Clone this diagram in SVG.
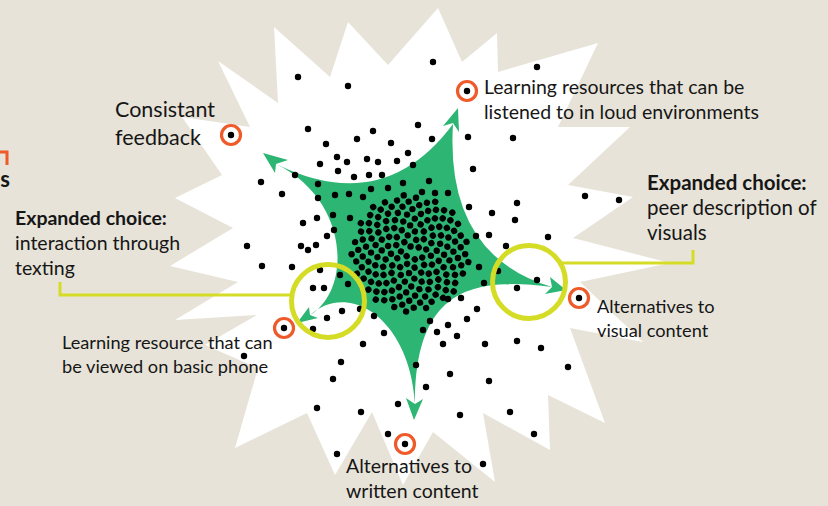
<svg xmlns="http://www.w3.org/2000/svg" width="828" height="506" viewBox="0 0 828 506">
<style>
text{font-family:Lato,"Open Sans","Liberation Sans",sans-serif;fill:#161616}
.l{font-size:19.5px}
.s{font-size:18.2px}
.big{font-size:21.5px}
.pr{font-size:20.5px}
.b{font-weight:700}
.ring{fill:none;stroke:#ee5a2a;stroke-width:3.2}
.hl{fill:none;stroke:#d5dc26;stroke-width:5}
.ln{fill:none;stroke:#d5dc26;stroke-width:3}
.grn{fill:#2db573}
.dot{fill:#000}
</style>
<rect width="828" height="506" fill="#e7e3d8"/>
<polygon id="burst" fill="#fff" points="348,22 388,65 438,8 462,62 497,33 498,72 598,43 558,127 630,127 568,185 633,197 573,238 670,263 580,282 643,342 570,328 605,423 548,395 550,450 483,413 495,482 433,432 403,485 372,412 335,475 307,413 235,448 258,368 205,345 257,315 175,320 238,282 170,266 233,228 175,198 222,175 182,117 250,127 218,61 278,103 274,27 330,77"/>
<g id="star" class="grn">
<path d="M276,164 Q384,217 453,124 Q445,255 552,287 C465,275 415,295 415,404 C410,320 350,280 310,315 C352,290 350,200 276,164 Z"/>
<polygon points="263,153 275,173 276,164 288,160"/>
<polygon points="458,108 443,126 453,123 459,132"/>
<polygon points="566,290 550,277 552,287 545,294"/>
<polygon points="414,420 406,398 415,404 423,399"/>
<polygon points="297,323 309,307 310,315 318,318"/>
</g>
<g id="core-dots" class="dot" transform="translate(410 253)">
<circle r="3.2" cx="4.6" transform="rotate(137.5)"/><circle r="3.2" cx="6.5" transform="rotate(275)"/><circle r="3.2" cx="8" transform="rotate(52.5)"/><circle r="3.2" cx="9.2" transform="rotate(190)"/><circle r="3.2" cx="10.3" transform="rotate(327.5)"/>
<circle r="3.2" cx="11.3" transform="rotate(105)"/><circle r="3.2" cx="12.2" transform="rotate(242.6)"/><circle r="3.2" cx="13" transform="rotate(20.1)"/><circle r="3.2" cx="13.8" transform="rotate(157.6)"/><circle r="3.2" cx="14.5" transform="rotate(295.1)"/>
<circle r="3.2" cx="15.3" transform="rotate(72.6)"/><circle r="3.2" cx="15.9" transform="rotate(210.1)"/><circle r="3.2" cx="16.6" transform="rotate(347.6)"/><circle r="3.2" cx="17.2" transform="rotate(125.1)"/><circle r="3.2" cx="17.8" transform="rotate(262.6)"/>
<circle r="3.2" cx="18.4" transform="rotate(40.1)"/><circle r="3.2" cx="19" transform="rotate(177.6)"/><circle r="3.2" cx="19.5" transform="rotate(315.1)"/><circle r="3.2" cx="20.1" transform="rotate(92.7)"/><circle r="3.2" cx="20.6" transform="rotate(230.2)"/>
<circle r="3.2" cx="21.1" transform="rotate(7.7)"/><circle r="3.2" cx="21.6" transform="rotate(145.2)"/><circle r="3.2" cx="22.1" transform="rotate(282.7)"/><circle r="3.2" cx="22.5" transform="rotate(60.2)"/><circle r="3.2" cx="23" transform="rotate(197.7)"/>
<circle r="3.2" cx="23.5" transform="rotate(335.2)"/><circle r="3.2" cx="23.9" transform="rotate(112.7)"/><circle r="3.2" cx="24.3" transform="rotate(250.2)"/><circle r="3.2" cx="24.8" transform="rotate(27.7)"/><circle r="3.2" cx="25.2" transform="rotate(165.2)"/>
<circle r="3.2" cx="25.6" transform="rotate(302.7)"/><circle r="3.2" cx="26" transform="rotate(80.3)"/><circle r="3.2" cx="26.4" transform="rotate(217.8)"/><circle r="3.2" cx="26.8" transform="rotate(355.3)"/><circle r="3.2" cx="27.2" transform="rotate(132.8)"/>
<circle r="3.2" cx="27.6" transform="rotate(270.3)"/><circle r="3.2" cx="28" transform="rotate(47.8)"/><circle r="3.2" cx="28.4" transform="rotate(185.3)"/><circle r="3.2" cx="28.7" transform="rotate(322.8)"/><circle r="3.2" cx="29.1" transform="rotate(100.3)"/>
<circle r="3.2" cx="29.5" transform="rotate(237.8)"/><circle r="3.2" cx="29.8" transform="rotate(15.3)"/><circle r="3.2" cx="30.2" transform="rotate(152.8)"/><circle r="3.2" cx="30.5" transform="rotate(290.4)"/><circle r="3.2" cx="30.9" transform="rotate(67.9)"/>
<circle r="3.2" cx="31.2" transform="rotate(205.4)"/><circle r="3.2" cx="31.5" transform="rotate(342.9)"/><circle r="3.2" cx="31.9" transform="rotate(120.4)"/><circle r="3.2" cx="32.2" transform="rotate(257.9)"/><circle r="3.2" cx="32.5" transform="rotate(35.4)"/>
<circle r="3.2" cx="32.8" transform="rotate(172.9)"/><circle r="3.2" cx="33.2" transform="rotate(310.4)"/><circle r="3.2" cx="33.5" transform="rotate(87.9)"/><circle r="3.2" cx="33.8" transform="rotate(225.4)"/><circle r="3.2" cx="34.1" transform="rotate(2.9)"/>
<circle r="3.2" cx="34.4" transform="rotate(140.4)"/><circle r="3.2" cx="34.7" transform="rotate(278)"/><circle r="3.2" cx="35" transform="rotate(55.5)"/><circle r="3.2" cx="35.3" transform="rotate(193)"/><circle r="3.2" cx="35.6" transform="rotate(330.5)"/>
<circle r="3.2" cx="35.9" transform="rotate(108)"/><circle r="3.2" cx="36.2" transform="rotate(245.5)"/><circle r="3.2" cx="36.5" transform="rotate(23)"/><circle r="3.2" cx="36.8" transform="rotate(160.5)"/><circle r="3.2" cx="37.1" transform="rotate(298)"/>
<circle r="3.2" cx="37.4" transform="rotate(75.5)"/><circle r="3.2" cx="37.7" transform="rotate(213)"/><circle r="3.2" cx="37.9" transform="rotate(350.5)"/><circle r="3.2" cx="38.2" transform="rotate(128.1)"/><circle r="3.2" cx="38.5" transform="rotate(265.6)"/>
<circle r="3.2" cx="38.8" transform="rotate(43.1)"/><circle r="3.2" cx="39" transform="rotate(180.6)"/><circle r="3.2" cx="39.3" transform="rotate(318.1)"/><circle r="3.2" cx="39.6" transform="rotate(95.6)"/><circle r="3.2" cx="39.8" transform="rotate(233.1)"/>
<circle r="3.2" cx="40.1" transform="rotate(10.6)"/><circle r="3.2" cx="40.4" transform="rotate(148.1)"/><circle r="3.2" cx="40.6" transform="rotate(285.6)"/><circle r="3.2" cx="40.9" transform="rotate(63.1)"/><circle r="3.2" cx="41.1" transform="rotate(200.6)"/>
<circle r="3.2" cx="41.4" transform="rotate(338.1)"/><circle r="3.2" cx="41.7" transform="rotate(115.7)"/><circle r="3.2" cx="41.9" transform="rotate(253.2)"/><circle r="3.2" cx="42.2" transform="rotate(30.7)"/><circle r="3.2" cx="42.4" transform="rotate(168.2)"/>
<circle r="3.2" cx="42.7" transform="rotate(305.7)"/><circle r="3.2" cx="42.9" transform="rotate(83.2)"/><circle r="3.2" cx="43.2" transform="rotate(220.7)"/><circle r="3.2" cx="43.4" transform="rotate(358.2)"/><circle r="3.2" cx="43.6" transform="rotate(135.7)"/>
<circle r="3.2" cx="43.9" transform="rotate(273.2)"/><circle r="3.2" cx="44.1" transform="rotate(50.7)"/><circle r="3.2" cx="44.4" transform="rotate(188.2)"/><circle r="3.2" cx="44.6" transform="rotate(325.8)"/><circle r="3.2" cx="44.8" transform="rotate(103.3)"/>
<circle r="3.2" cx="45.1" transform="rotate(240.8)"/><circle r="3.2" cx="45.3" transform="rotate(18.3)"/><circle r="3.2" cx="45.5" transform="rotate(155.8)"/><circle r="3.2" cx="45.8" transform="rotate(293.3)"/><circle r="3.2" cx="46" transform="rotate(70.8)"/>
<circle r="3.2" cx="46.2" transform="rotate(208.3)"/><circle r="3.2" cx="46.5" transform="rotate(345.8)"/><circle r="3.2" cx="46.7" transform="rotate(123.3)"/><circle r="3.2" cx="46.9" transform="rotate(260.8)"/><circle r="3.2" cx="47.1" transform="rotate(38.3)"/>
<circle r="3.2" cx="47.4" transform="rotate(175.8)"/><circle r="3.2" cx="47.6" transform="rotate(313.4)"/><circle r="3.2" cx="47.8" transform="rotate(90.9)"/><circle r="3.2" cx="48" transform="rotate(228.4)"/><circle r="3.2" cx="48.2" transform="rotate(5.9)"/>
<circle r="3.2" cx="48.5" transform="rotate(143.4)"/><circle r="3.2" cx="48.7" transform="rotate(280.9)"/><circle r="3.2" cx="48.9" transform="rotate(58.4)"/><circle r="3.2" cx="49.1" transform="rotate(195.9)"/><circle r="3.2" cx="49.3" transform="rotate(333.4)"/>
<circle r="3.2" cx="49.5" transform="rotate(110.9)"/><circle r="3.2" cx="49.8" transform="rotate(248.4)"/><circle r="3.2" cx="50" transform="rotate(25.9)"/><circle r="3.2" cx="50.2" transform="rotate(163.5)"/><circle r="3.2" cx="50.4" transform="rotate(301)"/>
<circle r="3.2" cx="50.6" transform="rotate(78.5)"/><circle r="3.2" cx="50.8" transform="rotate(216)"/><circle r="3.2" cx="51" transform="rotate(353.5)"/><circle r="3.2" cx="51.2" transform="rotate(131)"/><circle r="3.2" cx="51.4" transform="rotate(268.5)"/>
<circle r="3.2" cx="51.6" transform="rotate(46)"/><circle r="3.2" cx="51.8" transform="rotate(183.5)"/><circle r="3.2" cx="52" transform="rotate(321)"/><circle r="3.2" cx="52.2" transform="rotate(98.5)"/><circle r="3.2" cx="52.4" transform="rotate(236)"/>
<circle r="3.2" cx="52.7" transform="rotate(13.5)"/><circle r="3.2" cx="52.9" transform="rotate(151.1)"/><circle r="3.2" cx="53.1" transform="rotate(288.6)"/><circle r="3.2" cx="53.3" transform="rotate(66.1)"/><circle r="3.2" cx="53.4" transform="rotate(203.6)"/>
<circle r="3.2" cx="53.6" transform="rotate(341.1)"/><circle r="3.2" cx="53.8" transform="rotate(118.6)"/><circle r="3.2" cx="54" transform="rotate(256.1)"/><circle r="3.2" cx="54.2" transform="rotate(33.6)"/><circle r="3.2" cx="54.4" transform="rotate(171.1)"/>
<circle r="3.2" cx="54.6" transform="rotate(308.6)"/><circle r="3.2" cx="54.8" transform="rotate(86.1)"/><circle r="3.2" cx="55" transform="rotate(223.6)"/><circle r="3.2" cx="55.2" transform="rotate(1.2)"/><circle r="3.2" cx="55.4" transform="rotate(138.7)"/>
<circle r="3.2" cx="55.6" transform="rotate(276.2)"/><circle r="3.2" cx="55.8" transform="rotate(53.7)"/><circle r="3.2" cx="56" transform="rotate(191.2)"/><circle r="3.2" cx="56.2" transform="rotate(328.7)"/><circle r="3.2" cx="56.3" transform="rotate(106.2)"/>
<circle r="3.2" cx="56.5" transform="rotate(243.7)"/><circle r="3.2" cx="56.7" transform="rotate(21.2)"/><circle r="3.2" cx="56.9" transform="rotate(158.7)"/><circle r="3.2" cx="57.1" transform="rotate(296.2)"/><circle r="3.2" cx="57.3" transform="rotate(73.7)"/>
<circle r="3.2" cx="57.5" transform="rotate(211.3)"/><circle r="3.2" cx="57.6" transform="rotate(348.8)"/><circle r="3.2" cx="57.8" transform="rotate(126.3)"/><circle r="3.2" cx="58" transform="rotate(263.8)"/><circle r="3.2" cx="58.2" transform="rotate(41.3)"/>
<circle r="3.2" cx="58.4" transform="rotate(178.8)"/><circle r="3.2" cx="58.5" transform="rotate(316.3)"/><circle r="3.2" cx="58.7" transform="rotate(93.8)"/><circle r="3.2" cx="58.9" transform="rotate(231.3)"/><circle r="3.2" cx="59.1" transform="rotate(8.8)"/>
</g>
<g id="scatter-dots" class="dot">
<circle r="3.2" cx="298" cy="77"/><circle r="3.2" cx="348" cy="86"/><circle r="3.2" cx="433" cy="62"/><circle r="3.2" cx="537" cy="67"/>
<circle r="3.2" cx="308" cy="129"/><circle r="3.2" cx="373" cy="131"/><circle r="3.2" cx="418" cy="125"/><circle r="3.2" cx="326" cy="144"/><circle r="3.2" cx="357" cy="139"/><circle r="3.2" cx="391" cy="143"/><circle r="3.2" cx="432" cy="139"/><circle r="3.2" cx="468" cy="137"/><circle r="3.2" cx="513" cy="138"/>
<circle r="3.2" cx="408" cy="153"/><circle r="3.2" cx="337" cy="157"/><circle r="3.2" cx="347" cy="162"/><circle r="3.2" cx="320" cy="164"/><circle r="3.2" cx="367" cy="159"/><circle r="3.2" cx="378" cy="162"/><circle r="3.2" cx="397" cy="161"/><circle r="3.2" cx="413" cy="165"/><circle r="3.2" cx="473" cy="169"/>
<circle r="3.2" cx="338" cy="171"/><circle r="3.2" cx="354" cy="177"/><circle r="3.2" cx="369" cy="175"/><circle r="3.2" cx="382" cy="175"/><circle r="3.2" cx="295" cy="175"/>
<circle r="3.2" cx="261" cy="182"/><circle r="3.2" cx="282" cy="194"/><circle r="3.2" cx="318" cy="184"/><circle r="3.2" cx="335" cy="195"/><circle r="3.2" cx="349" cy="194"/><circle r="3.2" cx="363" cy="197"/><circle r="3.2" cx="371" cy="189"/><circle r="3.2" cx="388" cy="188"/><circle r="3.2" cx="403" cy="183"/><circle r="3.2" cx="422" cy="192"/><circle r="3.2" cx="435" cy="193"/><circle r="3.2" cx="448" cy="193"/><circle r="3.2" cx="429" cy="181"/>
<circle r="3.2" cx="318" cy="198"/><circle r="3.2" cx="303" cy="223"/><circle r="3.2" cx="317" cy="218"/><circle r="3.2" cx="333" cy="215"/><circle r="3.2" cx="350" cy="218"/>
<circle r="3.2" cx="247" cy="246"/><circle r="3.2" cx="301" cy="246"/><circle r="3.2" cx="308" cy="250"/><circle r="3.2" cx="316" cy="245"/><circle r="3.2" cx="327" cy="236"/><circle r="3.2" cx="334" cy="230"/>
<circle r="3.2" cx="585" cy="196"/><circle r="3.2" cx="619" cy="200"/><circle r="3.2" cx="517" cy="203"/><circle r="3.2" cx="469" cy="207"/><circle r="3.2" cx="492" cy="213"/><circle r="3.2" cx="515" cy="220"/><circle r="3.2" cx="476" cy="236"/><circle r="3.2" cx="489" cy="235"/><circle r="3.2" cx="548" cy="237"/><circle r="3.2" cx="506" cy="246"/>
<circle r="3.2" cx="262" cy="266"/><circle r="3.2" cx="292" cy="267"/><circle r="3.2" cx="320" cy="270"/><circle r="3.2" cx="313" cy="288"/><circle r="3.2" cx="324" cy="288"/><circle r="3.2" cx="340" cy="275"/><circle r="3.2" cx="348" cy="284"/>
<circle r="3.2" cx="327" cy="318"/><circle r="3.2" cx="342" cy="311"/><circle r="3.2" cx="313" cy="329"/><circle r="3.2" cx="360" cy="309"/><circle r="3.2" cx="374" cy="316"/><circle r="3.2" cx="384" cy="333"/><circle r="3.2" cx="363" cy="344"/><circle r="3.2" cx="341" cy="362"/><circle r="3.2" cx="333" cy="379"/><circle r="3.2" cx="244" cy="356"/>
<circle r="3.2" cx="479" cy="267"/><circle r="3.2" cx="498" cy="271"/><circle r="3.2" cx="537" cy="280"/><circle r="3.2" cx="517" cy="288"/><circle r="3.2" cx="484" cy="283"/><circle r="3.2" cx="448" cy="299"/><circle r="3.2" cx="461" cy="298"/><circle r="3.2" cx="477" cy="309"/><circle r="3.2" cx="467" cy="319"/><circle r="3.2" cx="448" cy="325"/><circle r="3.2" cx="437" cy="332"/><circle r="3.2" cx="457" cy="336"/><circle r="3.2" cx="443" cy="344"/><circle r="3.2" cx="485" cy="344"/><circle r="3.2" cx="517" cy="341"/><circle r="3.2" cx="541" cy="348"/><circle r="3.2" cx="568" cy="367"/><circle r="3.2" cx="450" cy="374"/><circle r="3.2" cx="489" cy="381"/><circle r="3.2" cx="426" cy="387"/><circle r="3.2" cx="416" cy="365"/><circle r="3.2" cx="423" cy="330"/><circle r="3.2" cx="430" cy="321"/>
<circle r="3.2" cx="317" cy="408"/><circle r="3.2" cx="361" cy="412"/><circle r="3.2" cx="398" cy="404"/><circle r="3.2" cx="388" cy="434"/><circle r="3.2" cx="337" cy="454"/><circle r="3.2" cx="460" cy="415"/><circle r="3.2" cx="510" cy="412"/><circle r="3.2" cx="534" cy="434"/><circle r="3.2" cx="483" cy="464"/>
</g>
<g id="connectors">
<polyline class="ln" points="60,282 60,295 290,295"/>
<polyline class="ln" points="560,263 693,263 693,250"/>
<polyline fill="none" stroke="#ee5a2a" stroke-width="3" points="0,152 7,152 7,165"/>
</g>
<g id="highlight-texting"><circle class="hl" cx="328" cy="301" r="36.5"/></g>
<g id="highlight-peer"><circle class="hl" cx="529" cy="282" r="36.5"/></g>
<g id="node-feedback">
<circle class="ring" cx="231" cy="135" r="9.5"/><circle class="dot" cx="231" cy="135" r="3.2"/>
<text class="big" x="115" y="117">Consistant<tspan x="115" y="145">feedback</tspan></text>
</g>
<g id="node-loud">
<circle class="ring" cx="467" cy="91" r="9.5"/><circle class="dot" cx="467" cy="91" r="3.2"/>
<text class="l" x="484" y="94">Learning resources that can be<tspan x="484" y="119">listened to in loud environments</tspan></text>
</g>
<g id="node-phone">
<circle class="ring" cx="284" cy="328" r="9.5"/><circle class="dot" cx="284" cy="328" r="3.2"/>
<text class="s" x="62" y="349">Learning resource that can<tspan x="62" y="373">be viewed on basic phone</tspan></text>
</g>
<g id="node-written">
<circle class="ring" cx="405" cy="444" r="9.5"/><circle class="dot" cx="405" cy="444" r="3.2"/>
<text class="l" x="346" y="473">Alternatives to<tspan x="346" y="498">written content</tspan></text>
</g>
<g id="node-visual">
<circle class="ring" cx="579" cy="298" r="9.5"/><circle class="dot" cx="579" cy="298" r="3.2"/>
<text class="s" x="597" y="313">Alternatives to<tspan x="597" y="337">visual content</tspan></text>
</g>
<g id="label-texting">
<text class="l" x="15" y="225"><tspan class="b">Expanded choice:</tspan><tspan x="15" y="250">interaction through</tspan><tspan x="15" y="275">texting</tspan></text>
</g>
<g id="label-peer">
<text class="pr" x="647" y="190"><tspan class="b">Expanded choice:</tspan><tspan x="647" y="215">peer description of</tspan><tspan x="647" y="240">visuals</tspan></text>
</g>
<g id="label-partial">
<text class="b" x="10" y="187" text-anchor="end" style="font-size:22px">s</text>
</g>
</svg>
